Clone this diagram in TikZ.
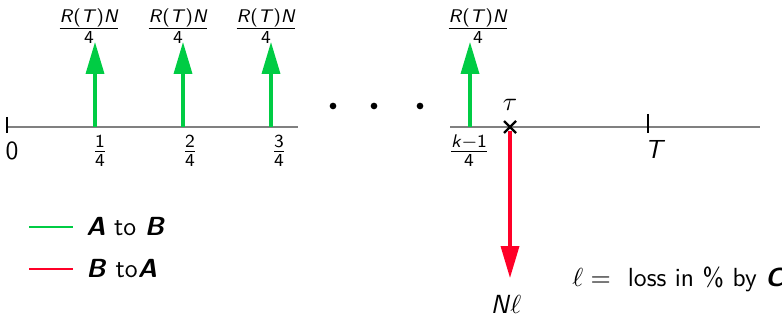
\documentclass[tikz,border=0pt]{standalone}
\usepackage{amsmath}
\usetikzlibrary{arrows.meta,calc}
\renewcommand{\familydefault}{\sfdefault}
\definecolor{flowgreen}{RGB}{0,204,68}
\definecolor{flowred}{RGB}{255,0,40}
\definecolor{axisgray}{RGB}{128,128,128}
\newcommand{\vi}[1]{\textit{#1}}
\newcommand{\bi}[1]{\textbf{\textit{#1}}}
\newcommand{\payfrac}{$\frac{\text{\vi{R}(\vi{T})\vi{N}}}{\text{4}}$}
\newcommand{\qfrac}[1]{$\frac{\text{#1}}{\text{4}}$}
\begin{document}
\begin{tikzpicture}[x=0.42pt,y=-0.42pt,
  axisline/.style={axisgray,line width=0.75pt},
  tickmark/.style={black,line width=0.9pt},
  inflow/.style={flowgreen,line width=1.3pt,-{Triangle[length=13.4pt,width=7.6pt]}},
  outflow/.style={flowred,line width=1.3pt,-{Triangle[length=13.4pt,width=7.6pt]}},
  lbl/.style={inner sep=0pt,font=\fontsize{11}{13}\selectfont},
  legendline/.style={line width=1.1pt}]
\useasboundingbox (0,0) rectangle (782,322);

% time axis, in two pieces around the dots
\coordinate (axL) at (7,127);
\coordinate (axLe) at (298,127);
\coordinate (axR) at (450,127);
\coordinate (axRe) at (760,127);
\draw[axisline] (axL) -- (axLe);
\draw[axisline] (axR) -- (axRe);

% tick at 0
\coordinate (t0a) at (7,117);
\coordinate (t0b) at (7,133);
\draw[tickmark] (t0a) -- (t0b);
\node[lbl] (l0) at (12,151) {0};

% payments from A to B
\foreach \n/\x/\lx/\fx/\lab in {p1/95/89/100/1, p2/183/178/190/2, p3/271/266/279/3}{
  \coordinate (\n b) at (\x,127);
  \coordinate (\n t) at (\x,42);
  \draw[inflow] (\n b) -- (\n t);
  \node[lbl] (\n amt) at (\lx,26) {\payfrac};
  \node[lbl] (\n time) at (\fx,151) {\qfrac{\lab}};
}
\coordinate (pkb) at (470,127);
\coordinate (pkt) at (470,42);
\draw[inflow] (pkb) -- (pkt);
\node[lbl] (pkamt) at (478,26) {\payfrac};
\node[lbl] (pktime) at (469,151) {\qfrac{\vi{k}$-$1}};

% dots
\foreach \n/\x in {d1/333,d2/374,d3/420}{
  \fill (\x,106) circle (1.4pt) coordinate (\n);
}

% default time tau
\coordinate (tau) at (510,127);
\draw[black,line width=1pt] ($(tau)+(-6,-6)$) -- ($(tau)+(6,6)$)
                            ($(tau)+(-6,6)$) -- ($(tau)+(6,-6)$);
\node[lbl] (taulab) at (510,105) {$\tau$};

% maturity T
\coordinate (mTa) at (648,114);
\coordinate (mTb) at (648,133);
\draw[tickmark] (mTa) -- (mTb);
\node[lbl] (Tlab) at (655,149) {\vi{T}};

% payment from B to A at default
\coordinate (lossb) at (510,131);
\coordinate (losst) at (510,278);
\draw[outflow] (lossb) -- (losst);
\node[lbl] (Nl) at (506,304) {\vi{N}$\ell$};

\node[lbl,anchor=west] (lossdef) at (572,279) {$\ell =$\ \ loss in \% by \bi{C}};

% legend
\coordinate (lg1a) at (29,227);
\coordinate (lg1b) at (73,227);
\draw[legendline,flowgreen] (lg1a) -- (lg1b);
\node[lbl,anchor=west] (lg1) at (86,227) {\bi{A} to \bi{B}};
\coordinate (lg2a) at (29,269);
\coordinate (lg2b) at (73,269);
\draw[legendline,flowred] (lg2a) -- (lg2b);
\node[lbl,anchor=west] (lg2) at (86,269) {\bi{B} to\bi{A}};
\end{tikzpicture}
\end{document}
